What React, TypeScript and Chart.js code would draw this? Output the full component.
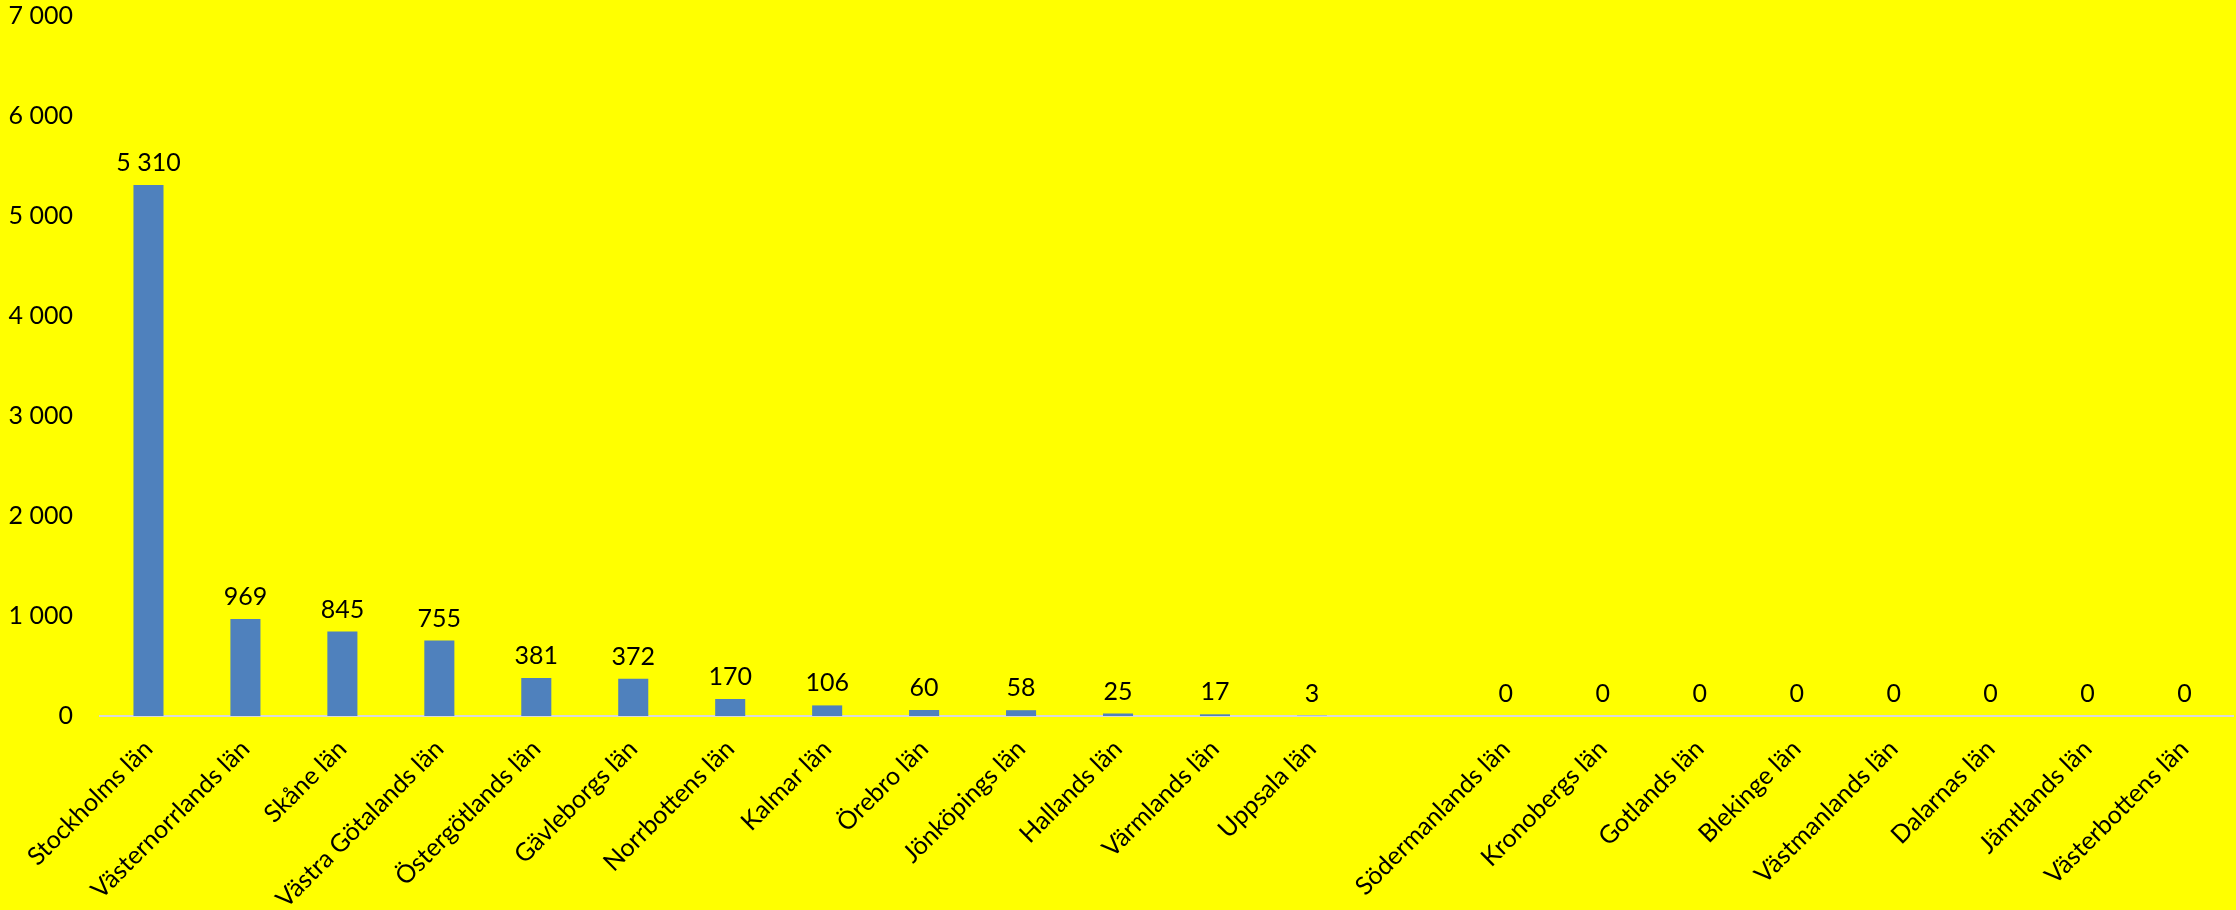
import React, { useEffect, useRef } from "react";
import { Chart, registerables } from "chart.js";

Chart.register(...registerables);

const categories: string[] = [
  "Stockholms län",
  "Västernorrlands län",
  "Skåne län",
  "Västra Götalands län",
  "Östergötlands län",
  "Gävleborgs län",
  "Norrbottens län",
  "Kalmar län",
  "Örebro län",
  "Jönköpings län",
  "Hallands län",
  "Värmlands län",
  "Uppsala län",
  "",
  "Södermanlands län",
  "Kronobergs län",
  "Gotlands län",
  "Blekinge län",
  "Västmanlands län",
  "Dalarnas län",
  "Jämtlands län",
  "Västerbottens län",
];

const values: (number | null)[] = [
  5310, 969, 845, 755, 381, 372, 170, 106, 60, 58, 25, 17, 3, null, 0, 0, 0, 0, 0, 0, 0, 0,
];

const yMin = 0;
const yMax = 7000;
const yStep = 1000;

const FONT = "Lato, 'Open Sans', sans-serif";

const fmt = (v: number) => String(Math.round(v)).replace(/\B(?=(\d{3})+(?!\d))/g, " ");

const dataLabelPlugin = {
  id: "dataLabels",
  afterDatasetsDraw(chart: any) {
    const ctx = chart.ctx;
    const meta = chart.getDatasetMeta(0);
    ctx.save();
    ctx.fillStyle = "#000000";
    ctx.font = `25px ${FONT}`;
    ctx.textAlign = "center";
    ctx.textBaseline = "alphabetic";
    meta.data.forEach((el: any, i: number) => {
      const v = values[i];
      if (v === null || v === undefined) return;
      ctx.fillText(fmt(v), el.x, el.y - 14);
    });
    ctx.restore();
  },
};

export default function App() {
  const ref = useRef<HTMLCanvasElement | null>(null);

  useEffect(() => {
    document.body.style.margin = "0";
    document.body.style.background = "#ffff00";
    if (!ref.current) return;
    const chart = new Chart(ref.current, {
      type: "bar",
      data: {
        labels: categories,
        datasets: [
          {
            data: values as any,
            backgroundColor: "#4f81bd",
            borderWidth: 0,
            categoryPercentage: 1,
            barPercentage: 0.31,
          },
        ],
      },
      options: {
        animation: false,
        responsive: false,
        maintainAspectRatio: false,
        layout: { padding: { top: 16, right: 3, left: 0, bottom: 0 } },
        plugins: {
          legend: { display: false },
          tooltip: { enabled: false },
          title: { display: false },
        },
        scales: {
          x: {
            grid: { display: false, drawTicks: false },
            border: { display: true, color: "#d9d9d9", width: 2 },
            ticks: {
              color: "#000000",
              font: { family: FONT, size: 25 },
              maxRotation: 45,
              minRotation: 45,
              autoSkip: false,
              padding: 18,
            },
            afterFit(scale: any) {
              scale.height = 194;
              scale.paddingLeft = 0;
              scale.paddingRight = 0;
            },
          },
          y: {
            min: yMin,
            max: yMax,
            grid: { display: false, drawTicks: false },
            border: { display: false },
            ticks: {
              stepSize: yStep,
              color: "#000000",
              font: { family: FONT, size: 25 },
              padding: 27,
              callback: (v: any) => fmt(Number(v)),
            },
            afterFit(scale: any) {
              scale.width = 100;
              scale.paddingTop = 0;
              scale.paddingBottom = 0;
            },
          },
        },
      },
      plugins: [dataLabelPlugin],
    });
    return () => chart.destroy();
  }, []);

  return (
    <div style={{ width: 2236, height: 910, background: "#ffff00" }}>
      <canvas ref={ref} width={2236} height={910} style={{ display: "block", width: 2236, height: 910 }} />
    </div>
  );
}
